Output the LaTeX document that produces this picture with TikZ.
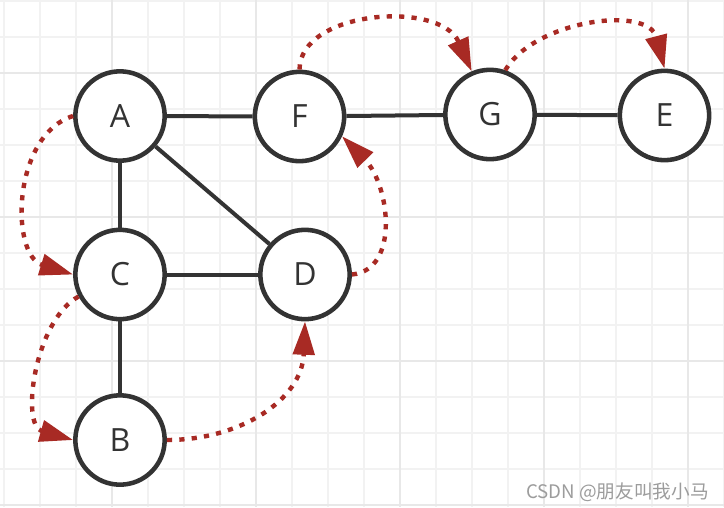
\documentclass[tikz,border=0pt]{standalone}
\usepackage{fontspec}
\setmainfont{Open Sans}
\newfontfamily\cjkfont{Noto Sans CJK SC}
\usetikzlibrary{arrows.meta}
\definecolor{ink}{HTML}{333333}
\definecolor{trace}{RGB}{168,42,36}
\definecolor{gridminor}{HTML}{F2F2F2}
\definecolor{gridmajor}{HTML}{E8E8E8}
\definecolor{wmgray}{HTML}{9C9C9C}
\begin{document}
\begin{tikzpicture}[x=0.75pt,y=-0.75pt,
  vertex/.style={circle,draw=ink,line width=3.4pt,fill=white,minimum size=67pt,
    inner sep=0pt,font=\fontsize{24}{24}\selectfont,text=ink},
  link/.style={draw=ink,line width=3pt},
  visit/.style={draw=trace,line width=3.3pt,dash pattern=on 3.9pt off 5.4pt,
    -{Triangle[length=25pt,width=16pt]}},
  minorline/.style={draw=gridminor,line width=1.1pt},
  majorline/.style={draw=gridmajor,line width=1.5pt}]
\fill[white] (0,0) rectangle (724,507);
\useasboundingbox (0,0) rectangle (724,507);
% grid
\foreach \xx in {4,40,...,724} \draw[minorline] (\xx,0) -- (\xx,507);
\foreach \yy in {1,37,...,505} \draw[minorline] (0,\yy) -- (724,\yy);
\foreach \xx in {112,256,400,544,688} \draw[majorline] (\xx,0) -- (\xx,507);
\foreach \yy in {73,217,361,505} \draw[majorline] (0,\yy) -- (724,\yy);
% vertices
\node[vertex] (A) at (120,116) {A};
\node[vertex] (F) at (299.5,116.5) {F};
\node[vertex] (G) at (490,114.5) {G};
\node[vertex] (E) at (664.5,115.5) {E};
\node[vertex] (C) at (120,274.5) {C};
\node[vertex] (D) at (305,274.5) {D};
\node[vertex] (B) at (120,440) {B};
% edges
\draw[link] (A) -- (F);
\draw[link] (F) -- (G);
\draw[link] (G) -- (E);
\draw[link] (A) -- (C);
\draw[link] (A) -- (D);
\draw[link] (C) -- (D);
\draw[link] (C) -- (B);
% traversal
\draw[visit] (A.west) .. controls (12,135) and (10,255) .. (C.west);
\draw[visit] (C.208) .. controls (35,320) and (20,425) .. (B.west);
\draw[visit] (B.east) .. controls (240,440) and (302,400) .. (D.south);
\draw[visit] (D.east) .. controls (400,270) and (390,185) .. (F.335);
\draw[visit] (F.north) .. controls (300,10) and (440,0) .. (G.113);
\draw[visit] (G.71) .. controls (535,20) and (648,5) .. (E.north);
% watermark
\node[anchor=base east,inner sep=0pt,text=wmgray,
  font=\cjkfont\fontsize{14}{14}\selectfont] (wm) at (709,498) {CSDN @朋友叫我小马};
\end{tikzpicture}
\end{document}
